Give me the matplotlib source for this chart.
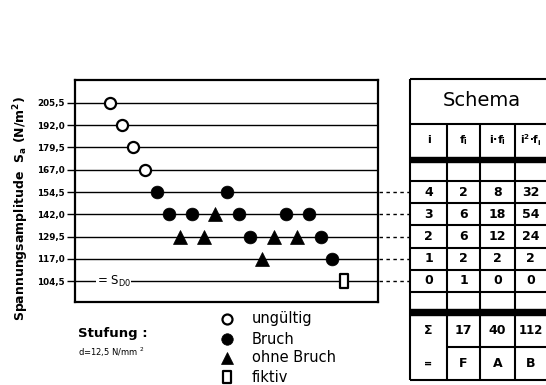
import matplotlib
matplotlib.use("Agg")
import matplotlib.pyplot as plt
from matplotlib.path import Path
from matplotlib.lines import Line2D
import matplotlib.transforms as mtransforms

plt.rcParams['font.family'] = ['DejaVu Sans']

# ---------------- data ----------------
levels = [205.5, 192.0, 179.5, 167.0, 154.5, 142.0, 129.5, 117.0, 104.5]
level_labels = ["205,5", "192,0", "179,5", "167,0", "154,5", "142,0", "129,5", "117,0", "104,5"]
# test sequence: stress level of each specimen and its outcome
seq_level = [205.5, 192.0, 179.5, 167.0, 154.5, 142.0, 129.5, 142.0, 129.5, 142.0,
             154.5, 142.0, 129.5, 117.0, 129.5, 142.0, 129.5, 142.0, 129.5, 117.0, 104.5]
seq_result = ["u", "u", "u", "u", "b", "b", "o", "b", "o", "o",
              "b", "b", "b", "o", "o", "b", "o", "b", "b", "b", "f"]
legend_labels = {"u": "ungültig", "b": "Bruch", "o": "ohne Bruch", "f": "fiktiv"}

tab_i = [4, 3, 2, 1, 0]
tab_f = [2, 6, 6, 2, 1]
tab_if = [8, 18, 12, 2, 0]
tab_i2f = [32, 54, 24, 2, 0]
tab_sum = [17, 40, 112]
tab_sym = ["F", "A", "B"]
tab_head = ["i", "f$_\\mathregular{i}$", "i·f$_\\mathregular{i}$", "i$^\\mathregular{2}$·f$_\\mathregular{i}$"]

# ---------------- figure ----------------
W, H = 546, 385
fig = plt.figure(figsize=(W / 100, H / 100), dpi=100)
fig.patch.set_facecolor("white")

def fx(px):
    return px / W

def fy(py):
    return 1 - py / H

ax = fig.add_axes([fx(75), fy(302), fx(378) - fx(75), fy(80) - fy(302)])
ax.set_xlim(-3.0, 22.9)
ax.set_ylim(8.94, -1.03)

lvl_index = {v: k for k, v in enumerate(levels)}

# horizontal level lines
for k, v in enumerate(levels):
    ax.axhline(k, color="black", lw=1.0, zorder=1)

rect_path = Path([(-0.3, -0.5), (0.3, -0.5), (0.3, 0.5), (-0.3, 0.5), (-0.3, -0.5)],
                 [Path.MOVETO, Path.LINETO, Path.LINETO, Path.LINETO, Path.CLOSEPOLY])
styles = {
    "u": dict(marker="o", ms=8.0, mfc="white", mec="black", mew=1.6),
    "b": dict(marker="o", ms=9.2, mfc="black", mec="black", mew=0.5),
    "o": dict(marker="^", ms=10.0, mfc="black", mec="black", mew=0.5),
    "f": dict(marker=rect_path, ms=10.0, mfc="white", mec="black", mew=1.6),
}
for n, (lv, r) in enumerate(zip(seq_level, seq_result)):
    ax.plot([n], [lvl_index[lv]], ls="none", zorder=3, **styles[r])

ax.set_yticks(range(len(levels)))
ax.set_yticklabels(level_labels, fontsize=6.3, fontweight="bold")
ax.set_xticks([])
ax.tick_params(axis="y", direction="out", length=6, width=1.0, pad=1.5)
for s in ax.spines.values():
    s.set_linewidth(1.6)

# = S_D0 label on the lowest line
ax.text(-1.15, 8, "= S$_{\\mathregular{D0}}$", fontsize=8.5, ha="left", va="center",
        bbox=dict(facecolor="white", edgecolor="none", pad=0.5), zorder=2)

# y label
fig.text(fx(21), fy(208), "Spannungsamplitude  S$_\\mathregular{a}$ (N/m$^\\mathregular{2}$)",
         rotation=90, ha="center", va="center", fontsize=9, fontweight="bold")

# dashed connectors to table
blend = mtransforms.blended_transform_factory(fig.transFigure, ax.transData)
for k in range(4, 9):
    ax.add_line(Line2D([fx(379), fx(410)], [k, k], transform=blend, color="black",
                       lw=1.0, ls=(0, (2.5, 2.5)), clip_on=False))

# legend below
leg_y = [319, 339, 358, 377]
for key, yy in zip(["u", "b", "o", "f"], leg_y):
    st = dict(styles[key])
    st["ms"] = st["ms"] * 0.9
    fig.add_artist(Line2D([fx(227)], [fy(yy)], transform=fig.transFigure, ls="none", **st))
    fig.text(fx(252), fy(yy), legend_labels[key], fontsize=10.5, ha="left", va="center")

fig.text(fx(78), fy(333), "Stufung :", fontsize=9.5, fontweight="bold", ha="left", va="center")
fig.text(fx(78), fy(352), "d=12,5 N/mm $^\\mathregular{2}$", fontsize=6, ha="left", va="center")

# ---------------- table ----------------
def hline(y, x0, x1, lw=1.5):
    fig.add_artist(Line2D([fx(x0), fx(x1)], [fy(y), fy(y)], transform=fig.transFigure,
                          color="black", lw=lw, solid_capstyle="butt"))

def vline(x, y0, y1, lw=1.5):
    fig.add_artist(Line2D([fx(x), fx(x)], [fy(y0), fy(y1)], transform=fig.transFigure,
                          color="black", lw=lw, solid_capstyle="butt"))

cols = [410, 447, 480, 515, 552]
tr = 560
t_top, t_title, t_head = 79, 124, 157
bar1 = (157, 162)
blank1 = 181
row_h = 22.2
rows_y = [blank1 + row_h * k for k in range(6)]
bar2 = (309, 315)
sum_bot = 347
t_bot = 380

# outer + title
hline(t_top, cols[0], tr)
hline(t_title, cols[0], tr)
vline(cols[0], t_top, t_bot)
fig.text(fx(482), fy(101), "Schema", fontsize=14, ha="center", va="center")
# header
for c in range(4):
    cx = (cols[c] + cols[c + 1]) / 2 - (3 if c == 3 else 0)
    fig.text(fx(cx), fy(140), tab_head[c], fontsize=7.5 if c == 3 else 8, fontweight="bold",
             ha="center", va="center")
# thick bars
fig.add_artist(plt.Rectangle((fx(cols[0]), fy(bar1[1])), fx(tr) - fx(cols[0]), fy(bar1[0]) - fy(bar1[1]),
                             transform=fig.transFigure, color="black"))
fig.add_artist(plt.Rectangle((fx(cols[0]), fy(bar2[1])), fx(tr) - fx(cols[0]), fy(bar2[0]) - fy(bar2[1]),
                             transform=fig.transFigure, color="black"))
# body lines
hline(blank1, cols[0], tr)
for yy in rows_y[1:]:
    hline(yy, cols[0], tr)
hline(sum_bot, cols[1], tr)
hline(t_bot, cols[0], tr)
for c in cols[1:4]:
    vline(c, t_title, t_bot)
# body values
for r in range(5):
    cy = rows_y[r] + row_h / 2
    vals = [tab_i[r], tab_f[r], tab_if[r], tab_i2f[r]]
    for c in range(4):
        cx = (cols[c] + cols[c + 1]) / 2 - (3 if c == 3 else 0)
        fig.text(fx(cx), fy(cy), str(vals[c]), fontsize=9, fontweight="bold", ha="center", va="center")
# sums
sum_cy = (bar2[1] + sum_bot) / 2
sym_cy = (sum_bot + t_bot) / 2
fig.text(fx((cols[0] + cols[1]) / 2), fy(sum_cy), "Σ", fontsize=9, fontweight="bold", ha="center", va="center")
fig.text(fx((cols[0] + cols[1]) / 2), fy(sym_cy), "=", fontsize=7, fontweight="bold", ha="center", va="center")
for c in range(3):
    cx = (cols[c + 1] + cols[c + 2]) / 2 - (3 if c == 2 else 0)
    fs = 8.5 if c == 2 else 9
    fig.text(fx(cx), fy(sum_cy), str(tab_sum[c]), fontsize=fs, fontweight="bold", ha="center", va="center")
    fig.text(fx(cx), fy(sym_cy), tab_sym[c], fontsize=9, fontweight="bold", ha="center", va="center")

fig.savefig("out.png", dpi=100, facecolor="white")
